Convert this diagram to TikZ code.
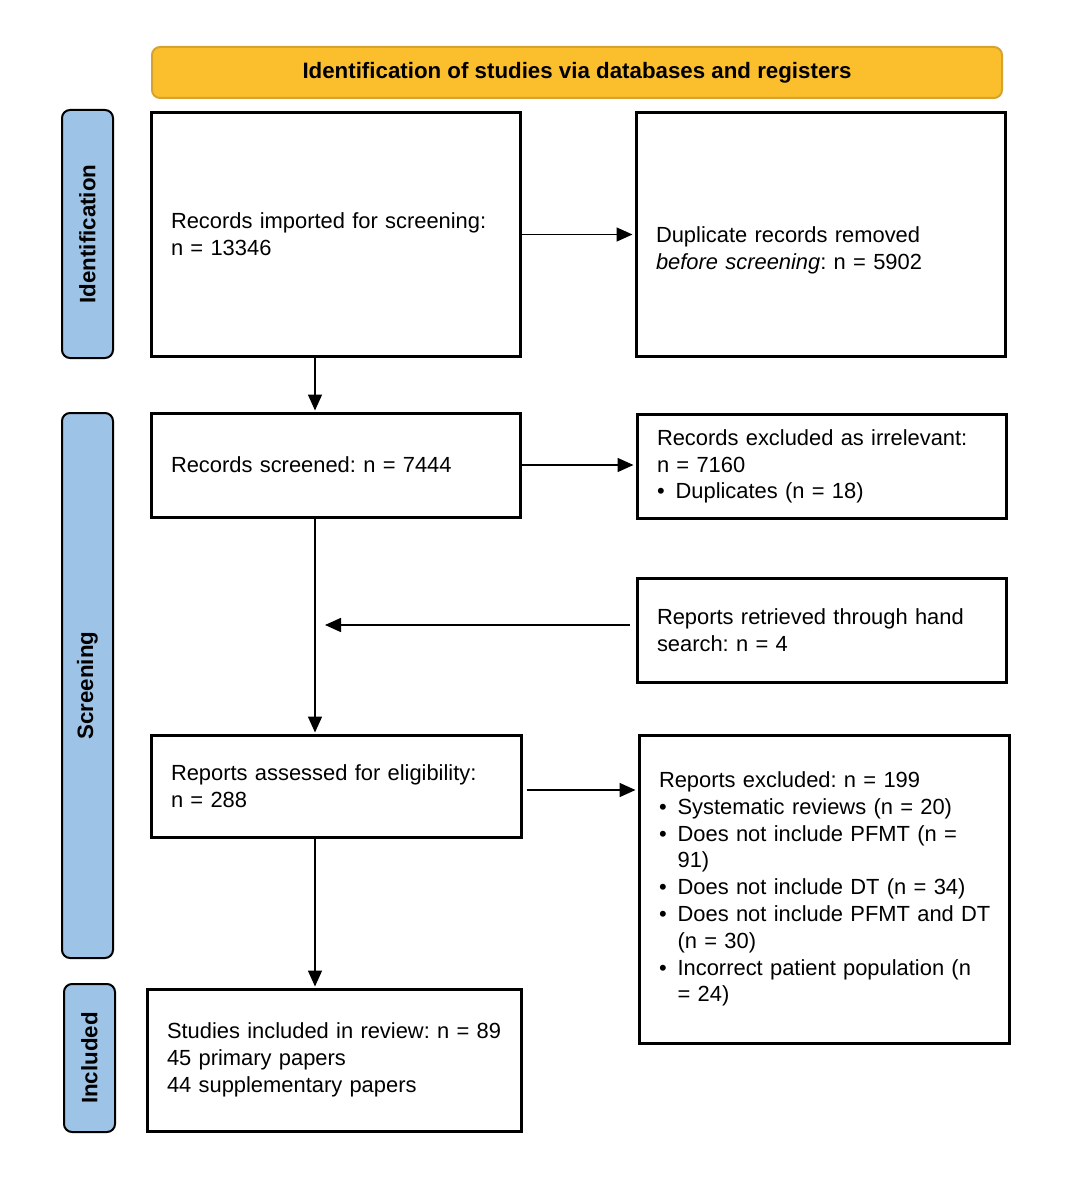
\documentclass[tikz,border=0pt]{standalone}
\usepackage{fontspec}
\setmainfont{Liberation Sans}
\usepackage{tikz}
\usetikzlibrary{arrows.meta,positioning}
\definecolor{tabblue}{HTML}{9DC3E6}
\definecolor{bannerfill}{HTML}{FBBF2D}
\definecolor{bannerline}{HTML}{D6A42E}
\newcommand{\itm}{\textbullet\hspace{0.5em}}
\newcommand{\cnt}{\hspace*{0.85em}}
\tikzset{
  every picture/.style={font=\fontsize{10.95}{13.4}\selectfont\frenchspacing, line join=miter},
  flowbox/.style={draw, line width=1.5pt, align=left, inner xsep=3pt, execute at begin node={\leftskip=7pt\relax}},
  phasetab/.style={draw, line width=1pt, fill=tabblue, rounded corners=4pt, rotate=90, font=\fontsize{11.15}{13.4}\selectfont\bfseries, minimum height=25.5pt},
  flowarrow/.style={line width=0.8pt, -{Triangle[length=8pt,width=7pt]}},
}
\begin{document}
\begin{tikzpicture}[x=0.5pt,y=-0.5pt]
\useasboundingbox (0,0) rectangle (1080,1188);
% banner
\node[draw=bannerline, line width=1pt, fill=bannerfill, rounded corners=4pt, minimum width=425pt, minimum height=25.5pt, font=\fontsize{11.15}{13.4}\selectfont\bfseries] (banner) at (577,72.5) {Identification of studies via databases and registers};
% phase tabs
\node[phasetab, minimum width=124pt] (idtab) at (87.5,234) {Identification};
\node[phasetab, minimum width=272.5pt] (scrtab) at (87.5,685.5) {Screening};
\node[phasetab, minimum width=74pt] (inctab) at (89.5,1058) {Included};
% boxes
\node[flowbox, text width=178.5pt, minimum height=121.5pt] (imported) at (335.5,234.5) {Records imported for screening:\\ n = 13346};
\node[flowbox, text width=178.5pt, minimum height=121.5pt, text height=24pt] (duplicates) at (820.5,234.5) {Duplicate records removed\\ \textit{before screening}: n = 5902};
\node[flowbox, text width=178.5pt, minimum height=52pt] (screened) at (335.5,465) {Records screened: n = 7444};
\node[flowbox, text width=178.5pt, minimum height=52pt] (irrelevant) at (821.5,466.5) {Records excluded as irrelevant:\\ n = 7160\\ \itm Duplicates (n = 18)};
\node[flowbox, text width=178.5pt, minimum height=52pt] (handsearch) at (821.5,630) {Reports retrieved through hand\\ search: n = 4};
\node[flowbox, text width=179pt, minimum height=51pt] (assessed) at (336,786) {Reports assessed for eligibility:\\ n = 288};
\node[flowbox, text width=179pt, minimum height=154pt] (excluded) at (824,889) {Reports excluded: n = 199\\
\itm Systematic reviews (n = 20)\\
\itm Does not include PFMT (n =\\
\cnt 91)\\
\itm Does not include DT (n = 34)\\
\itm Does not include PFMT and DT\\
\cnt (n = 30)\\
\itm Incorrect patient population (n\\
\cnt = 24)};
\node[flowbox, text width=181pt, minimum height=71pt] (included) at (334,1060) {Studies included in review: n = 89\\ 45 primary papers\\ 44 supplementary papers};
% connectors
\coordinate (spine) at (315,0);
\draw[flowarrow, shorten >=1pt] (imported) -- (duplicates);
\draw[flowarrow, shorten >=0.5pt] (imported.south -| spine) -- (screened.north -| spine);
\draw[flowarrow, shorten >=1pt] (screened) -- (screened -| irrelevant.west);
\draw[flowarrow, shorten >=0.5pt] (screened.south -| spine) -- (assessed.north -| spine);
\draw[flowarrow, shorten <=3pt, shorten >=5pt] ([yshift=2.5pt]handsearch.west) -- ([yshift=2.5pt]handsearch.west -| spine);
\draw[flowarrow, shorten <=2pt, shorten >=1pt] ([yshift=-2pt]assessed.east) -- ([yshift=-2pt]assessed.east -| excluded.west);
\draw[flowarrow, shorten >=0.5pt] (assessed.south -| spine) -- (included.north -| spine);
\end{tikzpicture}
\end{document}
